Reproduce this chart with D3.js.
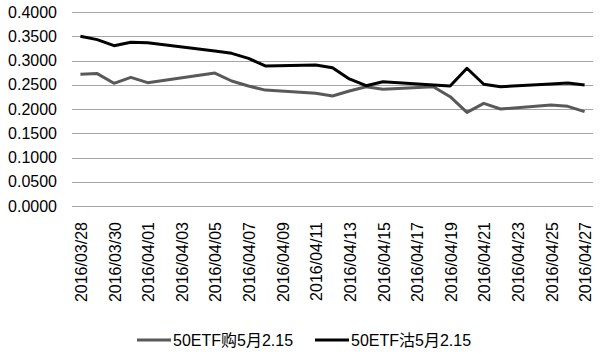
<!DOCTYPE html>
<html>
<head>
<meta charset="utf-8">
<script src="https://cdn.jsdelivr.net/npm/d3@7"></script>
<style>
  html, body { margin: 0; padding: 0; background: #fff; }
  svg { display: block; }
  text { font-family: "Liberation Sans", "Noto Sans CJK SC", sans-serif; fill: #000; }
</style>
</head>
<body>
<svg id="chart" width="600" height="355"></svg>
<script>
// ---- data ----
const dates = ["2016-03-28","2016-03-29","2016-03-30","2016-03-31","2016-04-01",
  "2016-04-05","2016-04-06","2016-04-07","2016-04-08","2016-04-11","2016-04-12",
  "2016-04-13","2016-04-14","2016-04-15","2016-04-18","2016-04-19","2016-04-20",
  "2016-04-21","2016-04-22","2016-04-25","2016-04-26","2016-04-27"];
const callValues = [0.2715,0.2730,0.2530,0.2653,0.2543,0.2740,0.2577,0.2474,0.2390,0.2323,0.2268,
  0.2370,0.2460,0.2406,0.2460,0.2254,0.1930,0.2117,0.2000,0.2082,0.2055,0.1945];
const putValues = [0.3500,0.3430,0.3305,0.3375,0.3367,0.3196,0.3148,0.3045,0.2887,0.2907,0.2850,
  0.2619,0.2480,0.2563,0.2495,0.2474,0.2840,0.2510,0.2460,0.2515,0.2536,0.2495];
const seriesNames = ["50ETF购5月2.15", "50ETF沽5月2.15"];
const tickLabels = ["2016/03/28","2016/03/30","2016/04/01","2016/04/03","2016/04/05","2016/04/07",
  "2016/04/09","2016/04/11","2016/04/13","2016/04/15","2016/04/17","2016/04/19","2016/04/21",
  "2016/04/23","2016/04/25","2016/04/27"];
const yTicks = [0,0.05,0.1,0.15,0.2,0.25,0.3,0.35,0.4];

// ---- layout ----
const svg = d3.select("#chart");
const plotLeft = 72, plotRight = 593, plotTop = 12, plotBottom = 206;
const parse = d3.utcParse("%Y-%m-%d");
const parseTick = d3.utcParse("%Y/%m/%d");
const halfDay = 12 * 3600 * 1000;
const x = d3.scaleUtc()
  .domain([new Date(parse("2016-03-28").getTime() - halfDay), new Date(parse("2016-04-27").getTime() + halfDay)])
  .range([plotLeft, plotRight]);
const y = d3.scaleLinear().domain([0, 0.4]).range([plotBottom, plotTop]);

// gridlines
svg.append("g").selectAll("line").data(yTicks).join("line")
  .attr("x1", plotLeft).attr("x2", plotRight)
  .attr("y1", d => Math.round(y(d)) + 0.5).attr("y2", d => Math.round(y(d)) + 0.5)
  .attr("stroke", "#a6a6a6").attr("stroke-width", 1);

// y labels
const yAxis = d3.axisLeft(y).tickValues(yTicks).tickFormat(d3.format(".4f")).tickSize(0).tickPadding(0);
const gy = svg.append("g").attr("transform", `translate(57,0)`).call(yAxis);
gy.select(".domain").remove();
gy.selectAll("text").attr("font-size", 16).style("font-family", "'Liberation Sans', sans-serif").attr("fill", "#000");

// x labels
const gx = svg.append("g");
gx.selectAll("text").data(tickLabels).join("text")
  .attr("transform", d => `translate(${x(parseTick(d)) + 1},222) rotate(-90)`)
  .attr("text-anchor", "end").attr("dy", "0.35em")
  .attr("font-size", 16)
  .text(d => d);

// lines
const pts = (vals) => dates.map((d, i) => [x(parse(d)), y(vals[i])]);
const line = d3.line();
svg.append("path").attr("d", line(pts(callValues)))
  .attr("fill", "none").attr("stroke", "#595959").attr("stroke-width", 3).attr("stroke-linejoin", "round");
svg.append("path").attr("d", line(pts(putValues)))
  .attr("fill", "none").attr("stroke", "#000").attr("stroke-width", 3).attr("stroke-linejoin", "round");

// legend
const legendItems = [
  {name: seriesNames[0], color: "#595959", x0: 137},
  {name: seriesNames[1], color: "#000", x0: 315}
];
const lg = svg.append("g");
legendItems.forEach(it => {
  lg.append("line").attr("x1", it.x0).attr("x2", it.x0 + 34).attr("y1", 340).attr("y2", 340)
    .attr("stroke", it.color).attr("stroke-width", 3);
  lg.append("text").attr("x", it.x0 + 36).attr("y", 340).attr("dy", "0.35em")
    .attr("font-size", 16).text(it.name);
});
</script>
</body>
</html>
